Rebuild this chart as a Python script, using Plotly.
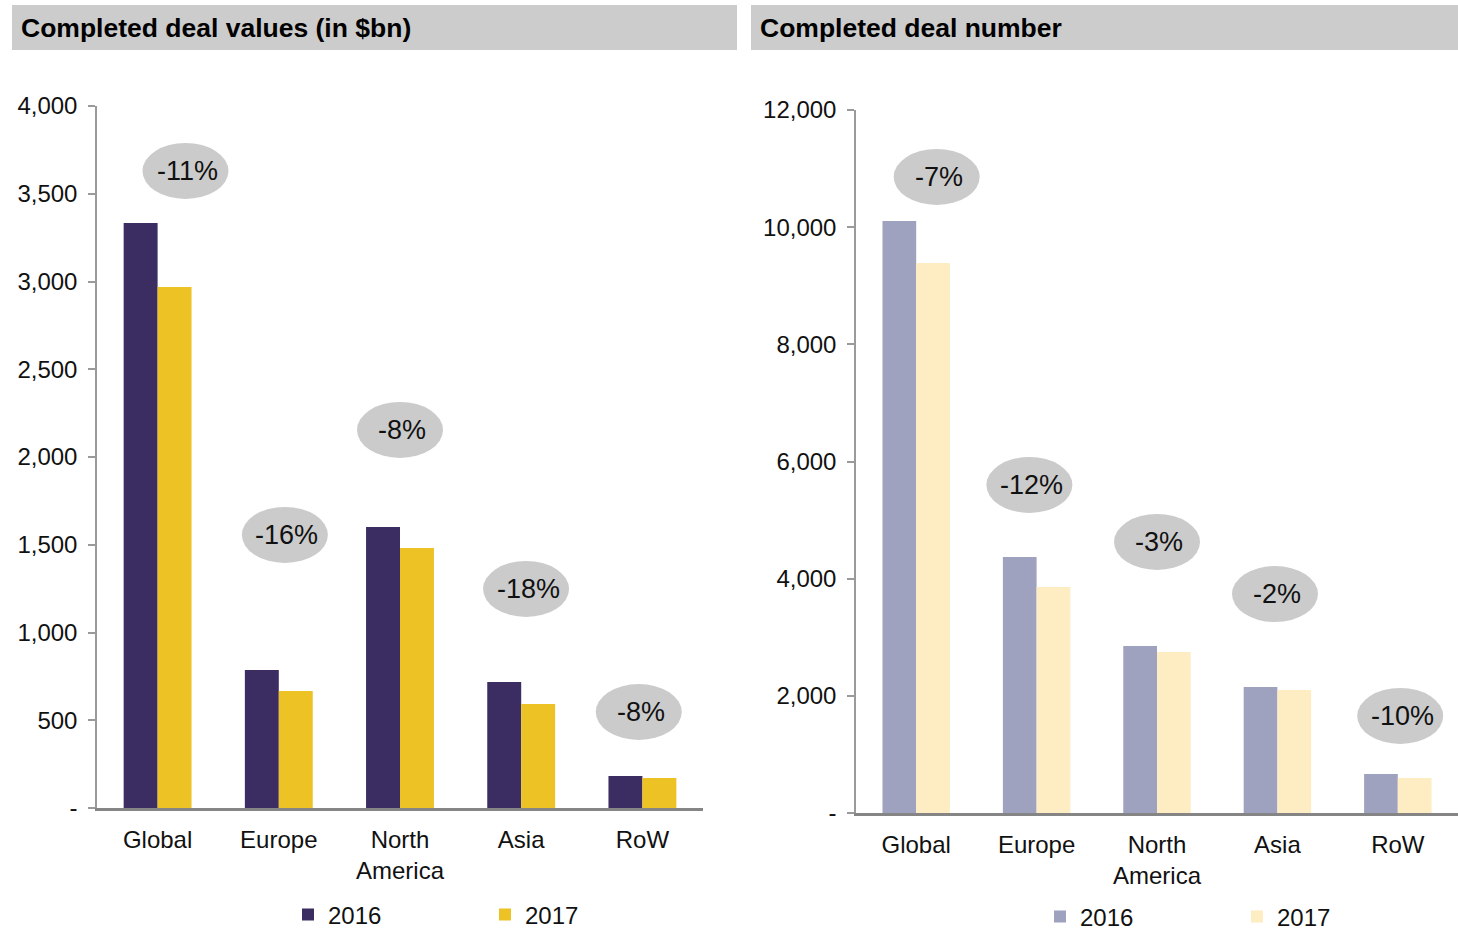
import plotly.graph_objects as go

W, H = 1458, 933

categories = ["Global", "Europe", "North<br>America", "Asia", "RoW"]

# Completed deal values (in $bn)
values_2016 = [3333, 786, 1601, 718, 182]
values_2017 = [2969, 667, 1481, 593, 171]
values_pct = ["-11%", "-16%", "-8%", "-18%", "-8%"]

# Completed deal number
number_2016 = [10106, 4370, 2851, 2151, 666]
number_2017 = [9389, 3858, 2748, 2100, 597]
number_pct = ["-7%", "-12%", "-3%", "-2%", "-10%"]

value_ticks = [0, 500, 1000, 1500, 2000, 2500, 3000, 3500, 4000]
number_ticks = [0, 2000, 4000, 6000, 8000, 10000, 12000]

# label bubble placement (layout only)
values_bubble_dx = [0.23, 0.05, 0.0, 0.04, -0.03]
values_bubble_y = [3630, 1556, 2154, 1248, 547]
number_bubble_dx = [0.17, -0.06, 0.0, -0.02, 0.02]
number_bubble_y = [10857, 5599, 4626, 3738, 1656]

FONT = "Liberation Sans, Arial, sans-serif"
C16_L, C17_L = "#3b2d61", "#edc224"
C16_R, C17_R = "#9ea2bf", "#feecc3"


def px_x(p):
    return p / W


def px_y(p):
    return 1 - p / H


fig = go.Figure()
fig.add_trace(go.Bar(x=categories, y=values_2016, name="2016", marker_color=C16_L,
                     marker_line_width=0, xaxis="x", yaxis="y", legend="legend"))
fig.add_trace(go.Bar(x=categories, y=values_2017, name="2017", marker_color=C17_L,
                     marker_line_width=0, xaxis="x", yaxis="y", legend="legend"))
fig.add_trace(go.Bar(x=categories, y=number_2016, name="2016", marker_color=C16_R,
                     marker_line_width=0, xaxis="x2", yaxis="y2", legend="legend2"))
fig.add_trace(go.Bar(x=categories, y=number_2017, name="2017", marker_color=C17_R,
                     marker_line_width=0, xaxis="x2", yaxis="y2", legend="legend2"))


def tick_text(ticks):
    return ["-" if t == 0 else f"{t:,}" for t in ticks]


xaxis_common = dict(type="category", showline=True, linecolor="#858585", linewidth=3,
                    ticks="", showgrid=False, tickfont=dict(size=24, color="#111"),
                    ticklabelstandoff=8, zeroline=False, fixedrange=True)
yaxis_common = dict(showline=True, linecolor="#9a9a9a", linewidth=1.5, ticks="outside",
                    ticklen=7, tickcolor="#9a9a9a", tickwidth=1.5, showgrid=False,
                    zeroline=False, tickfont=dict(size=24, color="#111"), ticklabelstandoff=6)

shapes = []
annotations = []

# header bars
for (x0, x1, text) in [(12, 737, "Completed deal values (in $bn)"),
                       (751, 1458, "Completed deal number")]:
    shapes.append(dict(type="rect", xref="paper", yref="paper", x0=px_x(x0), x1=px_x(x1),
                       y0=px_y(50), y1=px_y(5), fillcolor="#cccccc", line_width=0, layer="below"))
    annotations.append(dict(xref="paper", yref="paper", x=px_x(x0 + 7), y=px_y(28),
                            xanchor="left", yanchor="middle", showarrow=False,
                            text=f"<b>{text}</b>", font=dict(size=26.5, color="#000", family=FONT)))

for xr, yr, dxs, ys, labels in [("x", "y", values_bubble_dx, values_bubble_y, values_pct),
                                ("x2", "y2", number_bubble_dx, number_bubble_y, number_pct)]:
    for i, (dx, yv, lab) in enumerate(zip(dxs, ys, labels)):
        shapes.append(dict(type="circle", xref=xr, yref=yr, xsizemode="pixel", ysizemode="pixel",
                           xanchor=i + dx, yanchor=yv, x0=-43, x1=43, y0=-28, y1=28,
                           fillcolor="#cbcbcb", line_width=0, layer="above"))
        annotations.append(dict(xref=xr, yref=yr, x=i + dx, y=yv, text=lab, showarrow=False,
                                xshift=2, font=dict(size=27, color="#111", family=FONT)))

fig.update_layout(
    width=W, height=H, autosize=False,
    margin=dict(l=0, r=0, t=0, b=0, autoexpand=False),
    paper_bgcolor="white", plot_bgcolor="white",
    font=dict(family=FONT, size=24, color="#111"),
    barmode="group", bargap=0.44, bargroupgap=0,
    xaxis=dict(domain=[px_x(97), px_x(703)], anchor="y", **xaxis_common),
    yaxis=dict(domain=[px_y(808), px_y(106)], range=[0, 4000], anchor="x",
               tickvals=value_ticks, ticktext=tick_text(value_ticks), **yaxis_common),
    xaxis2=dict(domain=[px_x(856), px_x(1458)], anchor="y2", **xaxis_common),
    yaxis2=dict(domain=[px_y(813), px_y(110)], range=[0, 12000], anchor="x2",
                tickvals=number_ticks, ticktext=tick_text(number_ticks), **yaxis_common),
    legend=dict(orientation="h", x=px_x(288), y=px_y(915), xanchor="left", yanchor="middle",
                entrywidth=152, entrywidthmode="pixels", font=dict(size=24, color="#111"),
                bgcolor="rgba(0,0,0,0)"),
    legend2=dict(orientation="h", x=px_x(1040), y=px_y(917), xanchor="left", yanchor="middle",
                 entrywidth=152, entrywidthmode="pixels", font=dict(size=24, color="#111"),
                 bgcolor="rgba(0,0,0,0)"),
    shapes=shapes, annotations=annotations, showlegend=True,
)

fig.write_html("out.html")
